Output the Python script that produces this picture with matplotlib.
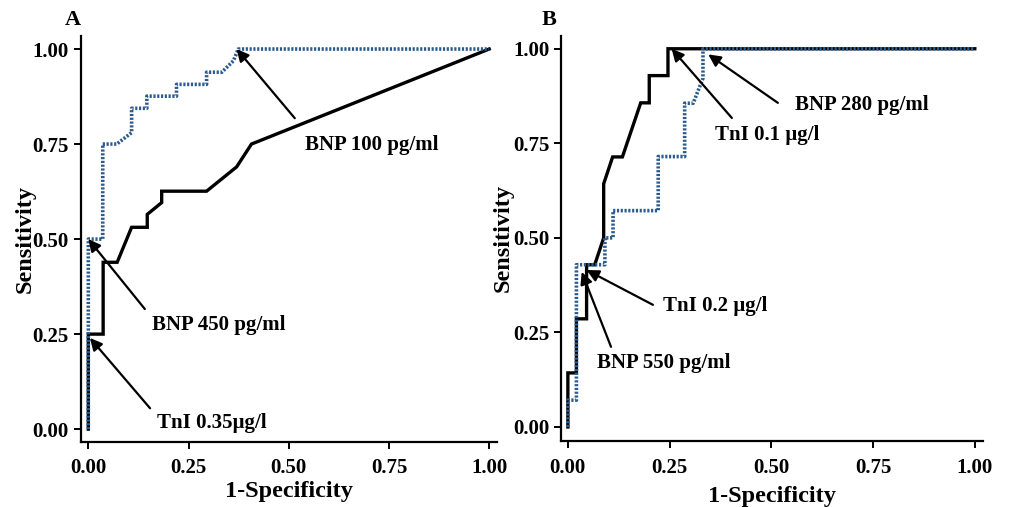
"""ROC curves for BNP and TnI, panels A and B."""

import matplotlib
matplotlib.use("Agg")
import matplotlib.pyplot as plt

plt.rcParams["font.family"] = ["Liberation Serif", "DejaVu Serif"]
plt.rcParams["font.weight"] = "bold"

BLUE = "#2d5a8c"

# Panel A
a_bnp_x = [0.0, 0.0, 0.036, 0.036, 0.071, 0.108, 0.108, 0.146, 0.146, 0.22, 0.22,
           0.295, 0.295, 0.333, 0.362, 0.374, 1.0]
a_bnp_y = [0.0, 0.5, 0.5, 0.75, 0.75, 0.78, 0.844, 0.844, 0.876, 0.876, 0.907,
           0.907, 0.939, 0.939, 0.969, 1.0, 1.0]
a_tni_x = [0.0, 0.0, 0.037, 0.037, 0.072, 0.108, 0.147, 0.147, 0.183, 0.183,
           0.295, 0.37, 0.407, 1.0]
a_tni_y = [0.0, 0.25, 0.25, 0.439, 0.439, 0.531, 0.531, 0.565, 0.596, 0.626,
           0.626, 0.69, 0.75, 1.0]

# Panel B
b_bnp_x = [0.0, 0.0, 0.021, 0.021, 0.091, 0.091, 0.111, 0.111, 0.222, 0.222,
           0.287, 0.287, 0.308, 0.332, 0.332, 1.0]
b_bnp_y = [0.0, 0.071, 0.071, 0.429, 0.429, 0.5, 0.5, 0.572, 0.572, 0.715,
           0.715, 0.856, 0.856, 0.922, 1.0, 1.0]
b_tni_x = [0.0, 0.0, 0.021, 0.021, 0.046, 0.046, 0.066, 0.088, 0.088, 0.11,
           0.134, 0.179, 0.2, 0.2, 0.246, 0.246, 1.0]
b_tni_y = [0.0, 0.143, 0.143, 0.286, 0.286, 0.429, 0.429, 0.5, 0.643, 0.714,
           0.714, 0.857, 0.857, 0.929, 0.929, 1.0, 1.0]

ticks = [0.0, 0.25, 0.5, 0.75, 1.0]
tick_labels = ["0.00", "0.25", "0.50", "0.75", "1.00"]

# (label, arrow tip, arrow tail, text left-centre) in data coords
a_notes = [
    ("BNP 100 pg/ml", (0.37, 1.0), (0.515, 0.818), (0.54, 0.747)),
    ("BNP 450 pg/ml", (0.0, 0.5), (0.141, 0.316), (0.159, 0.274)),
    ("TnI 0.35\u00b5g/l", (0.004, 0.24), (0.154, 0.055), (0.171, 0.016)),
]
b_notes = [
    ("BNP 280 pg/ml", (0.345, 0.985), (0.516, 0.857), (0.558, 0.852)),
    ("TnI 0.1 \u00b5g/l", (0.255, 1.0), (0.403, 0.817), (0.361, 0.772)),
    ("TnI 0.2 \u00b5g/l", (0.046, 0.415), (0.209, 0.323), (0.233, 0.32)),
    ("BNP 550 pg/ml", (0.034, 0.41), (0.106, 0.212), (0.071, 0.169)),
]

fig = plt.figure(figsize=(10.1, 5.07), dpi=100)
ax_a = fig.add_axes([0.0799, 0.1288, 0.412, 0.800])
ax_b = fig.add_axes([0.5554, 0.1302, 0.4178, 0.799])


def draw_panel(ax, bnp_x, bnp_y, tni_x, tni_y, notes, xlim, ylim, letter,
               letter_x, xpad, ypad):
    ax.plot(tni_x, tni_y, color="black", lw=2.4, solid_joinstyle="miter")
    ax.plot(bnp_x, bnp_y, color=BLUE, lw=2.6, linestyle=(0, (0.6, 0.45)),
            dash_capstyle="butt")
    for label, tip, tail, txt in notes:
        ax.annotate("", xy=tip, xytext=tail,
                    arrowprops=dict(arrowstyle="-|>", color="black", lw=1.6,
                                    mutation_scale=18, shrinkA=0, shrinkB=0))
        ax.text(txt[0], txt[1], label, fontsize=15, fontweight="bold",
                ha="left", va="center")
    ax.set_xlim(*xlim)
    ax.set_ylim(*ylim)
    ax.set_xticks(ticks)
    ax.set_xticklabels(tick_labels)
    ax.set_yticks(ticks)
    ax.set_yticklabels(tick_labels)
    for side in ("top", "right"):
        ax.spines[side].set_visible(False)
    for side in ("left", "bottom"):
        ax.spines[side].set_linewidth(1.6)
    ax.tick_params(width=1.4, length=5, labelsize=15)
    ax.tick_params(axis="x", pad=7)
    ax.set_xlabel("1-Specificity", fontsize=17.5, fontweight="bold",
                  labelpad=xpad)
    ax.set_ylabel("Sensitivity", fontsize=17.5, fontweight="bold",
                  labelpad=ypad)
    ax.text(letter_x, 1.04, letter, transform=ax.transAxes, fontsize=16,
            fontweight="bold", ha="center", va="center")


draw_panel(ax_a, a_bnp_x, a_bnp_y, a_tni_x, a_tni_y, a_notes,
           (-0.019, 1.019), (-0.033, 1.034), "A", -0.02, 2, -2)
draw_panel(ax_b, b_bnp_x, b_bnp_y, b_tni_x, b_tni_y, b_notes,
           (-0.017, 1.02), (-0.037, 1.034), "B", -0.028, 6, -0.5)

fig.savefig("out.png", dpi=100)
